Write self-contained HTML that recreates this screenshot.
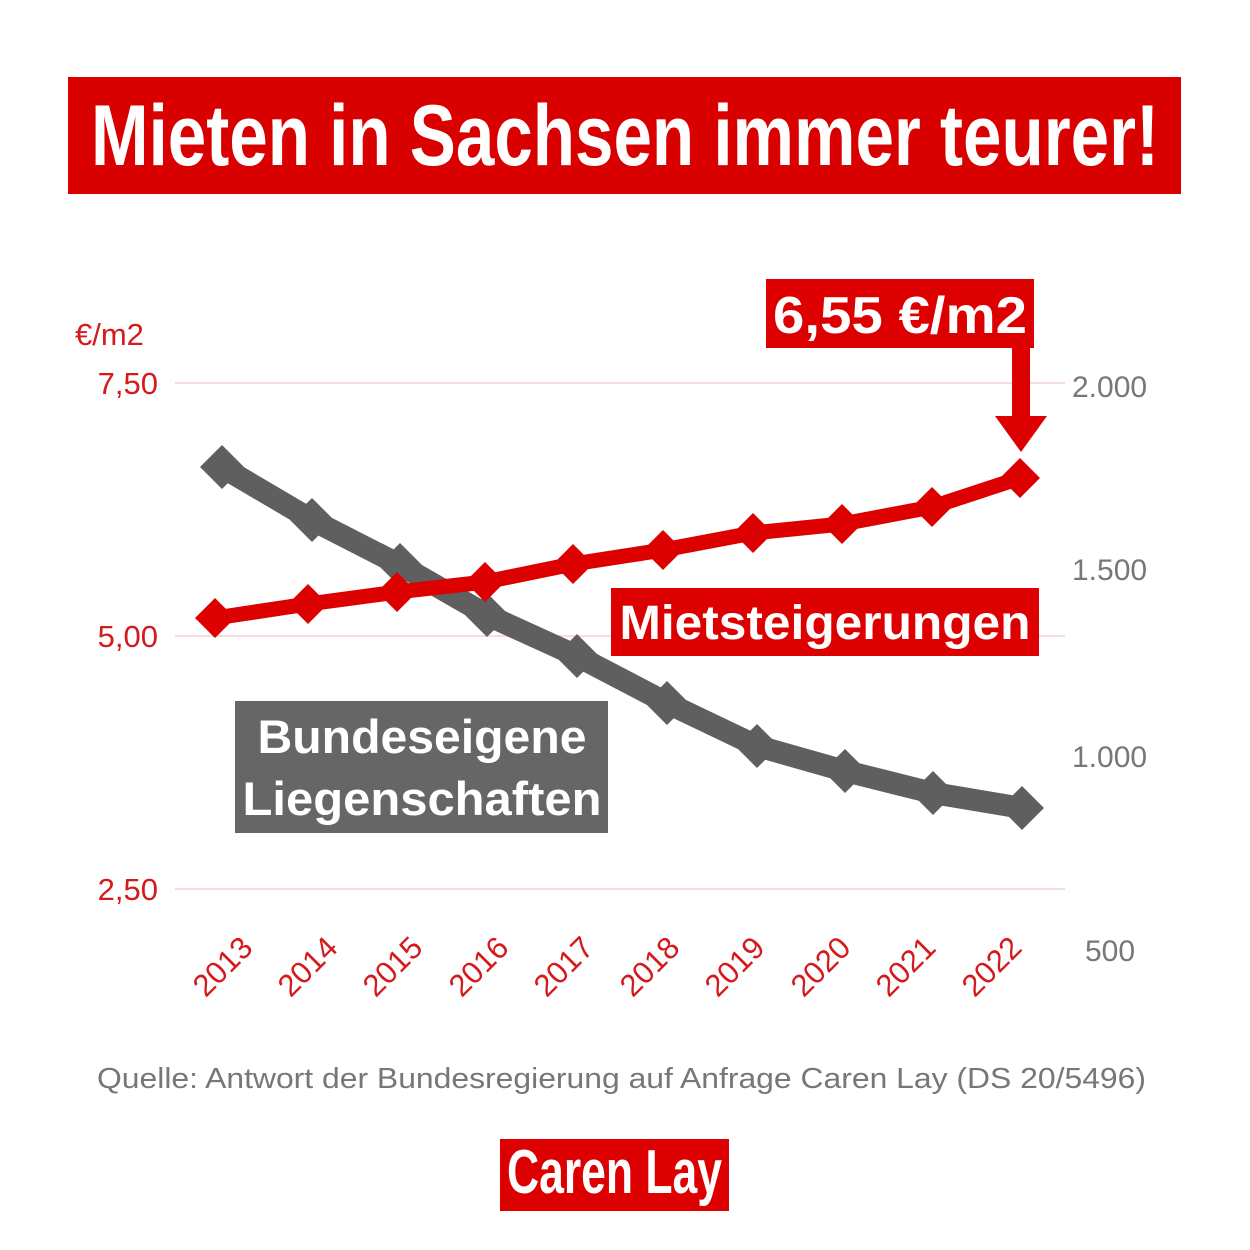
<!DOCTYPE html>
<html><head><meta charset="utf-8"><style>
html,body{margin:0;padding:0;background:#fff;}
body{width:1250px;height:1250px;position:relative;overflow:hidden;font-family:"Liberation Sans",sans-serif;}
</style></head><body>
<svg width="1250" height="1250" style="position:absolute;left:0;top:0" xmlns="http://www.w3.org/2000/svg" font-family="Liberation Sans, sans-serif">
<rect x="68" y="77" width="1113" height="117" fill="#d90000"/>
<text x="91" y="165" font-size="86" font-weight="bold" fill="#fff" textLength="1068" lengthAdjust="spacingAndGlyphs">Mieten in Sachsen immer teurer!</text>

<g stroke="#f3d0d0" stroke-width="1.5">
<line x1="175" y1="383" x2="1065" y2="383"/><line x1="175" y1="636" x2="1065" y2="636"/><line x1="175" y1="889" x2="1065" y2="889"/>
</g>
<g font-size="31" fill="#d41a1a">
<text x="75" y="345">€/m2</text>
<text x="158" y="394" text-anchor="end">7,50</text>
<text x="158" y="647" text-anchor="end">5,00</text>
<text x="158" y="900" text-anchor="end">2,50</text>
</g>
<g font-size="30" fill="#777">
<text x="1072" y="397">2.000</text>
<text x="1072" y="580">1.500</text>
<text x="1072" y="767">1.000</text>
<text x="1085" y="961">500</text>
</g>
<g font-size="31" fill="#d41a1a" text-anchor="middle">
<text transform="translate(230,974) rotate(-45)">2013</text>
<text transform="translate(315,974) rotate(-45)">2014</text>
<text transform="translate(400,974) rotate(-45)">2015</text>
<text transform="translate(486,974) rotate(-45)">2016</text>
<text transform="translate(571,974) rotate(-45)">2017</text>
<text transform="translate(657,974) rotate(-45)">2018</text>
<text transform="translate(742,974) rotate(-45)">2019</text>
<text transform="translate(828,974) rotate(-45)">2020</text>
<text transform="translate(913,974) rotate(-45)">2021</text>
<text transform="translate(999,974) rotate(-45)">2022</text>
</g>
<polyline fill="none" stroke="#5f5f5f" stroke-width="22" stroke-linejoin="round" points="222,467 312,520 400,565 487,615 577,656 667,703 757,746 845,771 933,793 1022,808"/>
<g fill="#5f5f5f">
<path d="M222,445 l22,22 l-22,22 l-22,-22z"/><path d="M312,498 l22,22 l-22,22 l-22,-22z"/><path d="M400,543 l22,22 l-22,22 l-22,-22z"/><path d="M487,593 l22,22 l-22,22 l-22,-22z"/><path d="M577,634 l22,22 l-22,22 l-22,-22z"/><path d="M667,681 l22,22 l-22,22 l-22,-22z"/><path d="M757,724 l22,22 l-22,22 l-22,-22z"/><path d="M845,749 l22,22 l-22,22 l-22,-22z"/><path d="M933,771 l22,22 l-22,22 l-22,-22z"/><path d="M1022,786 l22,22 l-22,22 l-22,-22z"/>
</g>
<polyline fill="none" stroke="#dc0000" stroke-width="15" stroke-linejoin="round" points="215,618 308,604 397,592 485,582 573,564 663,550 753,533 842,524 932,507 1020,478"/>
<g fill="#dc0000">
<path d="M215,598 l20,20 l-20,20 l-20,-20z"/><path d="M308,584 l20,20 l-20,20 l-20,-20z"/><path d="M397,572 l20,20 l-20,20 l-20,-20z"/><path d="M485,562 l20,20 l-20,20 l-20,-20z"/><path d="M573,544 l20,20 l-20,20 l-20,-20z"/><path d="M663,530 l20,20 l-20,20 l-20,-20z"/><path d="M753,513 l20,20 l-20,20 l-20,-20z"/><path d="M842,504 l20,20 l-20,20 l-20,-20z"/><path d="M932,487 l20,20 l-20,20 l-20,-20z"/><path d="M1020,458 l20,20 l-20,20 l-20,-20z"/>
</g>
<path d="M1012,340 h18 v76 h17 l-26,36 l-26,-36 h17z" fill="#dc0000"/>

<rect x="766" y="279" width="268" height="69" fill="#dc0000"/>
<text x="900" y="333" font-size="52" font-weight="bold" fill="#fff" text-anchor="middle" textLength="254" lengthAdjust="spacingAndGlyphs">6,55 €/m2</text>
<rect x="611" y="588" width="428" height="68" fill="#dc0000"/>
<text x="825" y="639" font-size="48" font-weight="bold" fill="#fff" text-anchor="middle" textLength="411" lengthAdjust="spacingAndGlyphs">Mietsteigerungen</text>
<rect x="235" y="701" width="373" height="132" fill="#666"/>
<text x="422" y="753" font-size="47" font-weight="bold" fill="#fff" text-anchor="middle" textLength="329" lengthAdjust="spacingAndGlyphs">Bundeseigene</text>
<text x="422" y="815" font-size="47" font-weight="bold" fill="#fff" text-anchor="middle" textLength="359" lengthAdjust="spacingAndGlyphs">Liegenschaften</text>

<text x="97" y="1088" font-size="29" fill="#777" textLength="1049" lengthAdjust="spacingAndGlyphs">Quelle: Antwort der Bundesregierung auf Anfrage Caren Lay (DS 20/5496)</text>

<rect x="500" y="1139" width="229" height="72" fill="#dc0000"/>
<text x="507" y="1193" font-size="62" font-weight="bold" fill="#fff" textLength="215" lengthAdjust="spacingAndGlyphs">Caren Lay</text>
</svg>
</body></html>
